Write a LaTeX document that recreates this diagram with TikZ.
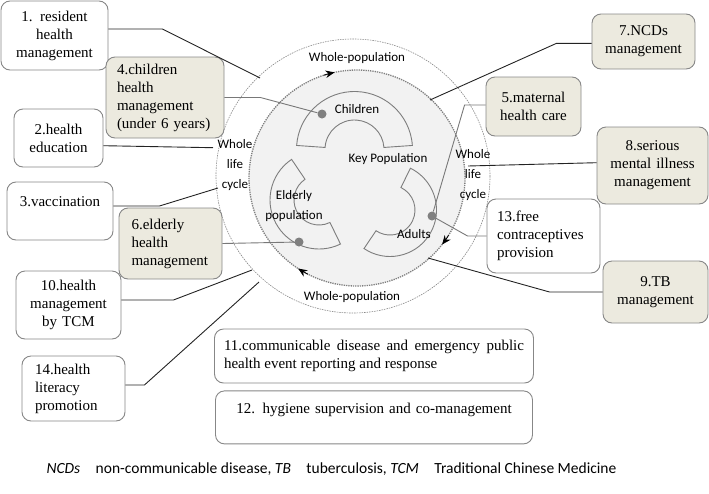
\documentclass[tikz,border=0pt]{standalone}
\usepackage{fontspec}
\setmainfont{Liberation Serif}
\newfontfamily\calibrifont{Carlito}
\usetikzlibrary{positioning}
\usetikzlibrary{arrows.meta}
\definecolor{beige}{RGB}{236,234,223}
\definecolor{boxgray}{RGB}{135,135,135}
\definecolor{ringfill}{RGB}{242,242,242}
\definecolor{piecegray}{RGB}{125,125,125}
\definecolor{dotgray}{RGB}{128,128,128}
\definecolor{leadgray}{RGB}{120,120,120}
\definecolor{leaddark}{RGB}{35,35,35}
\tikzset{
  svc/.style={draw=boxgray, line width=0.9pt, rounded corners=9pt, fill=white, inner sep=0pt, font=\fontsize{15}{18}\selectfont},
  keysvc/.style={svc, fill=beige},
  ringlabel/.style={font=\calibrifont\fontsize{13}{20}\selectfont, align=center},
  lead/.style={leaddark, line width=0.9pt},
  softlead/.style={leadgray, line width=0.9pt},
  piece/.style={piecegray, line width=0.9pt},
  spot/.style={circle, fill=dotgray, inner sep=0pt, minimum size=9pt},
  turn/.style={-{Stealth[length=9pt,width=7.5pt]}, black, line width=0.8pt},
}

\begin{document}
\begin{tikzpicture}[x=1pt, y=-1pt]
        \useasboundingbox (0,0) rectangle (709,493);
        % rings %
        \draw[boxgray, line width=0.6pt, dash pattern=on 1.5pt off 1pt] (353,176) circle[radius=137];
        \draw[fill=ringfill, draw=gray, line width=1.3pt, densely dotted] (357,178) circle[radius=108];
        \draw[turn, shift={(357,178)}] (-108:108) arc[start angle=-108, end angle=-102, radius=108];
        \draw[turn, shift={(357,178)}] (32:108) arc[start angle=32, end angle=38, radius=108];
        \draw[turn, shift={(357,178)}] (117:108) arc[start angle=117, end angle=123, radius=108];
        % key population pieces %
        \draw[piece, shift={(354.5,149.5)}] (-4:58) arc[start angle=-4, end angle=-176, radius=58] -- (-176:29.5) arc[start angle=-176, end angle=-4, radius=29.5] -- cycle;
        \draw[piece, shift={(319,200)}] (-124:49) arc[start angle=-124, end angle=-296, radius=49] -- (-296:25) arc[start angle=-296, end angle=-124, radius=25] -- cycle;
        \draw[piece, shift={(390,210)}] (124:46.5) arc[start angle=124, end angle=-64, radius=46.5] -- (-64:25) arc[start angle=-64, end angle=124, radius=25] -- cycle;
        % nodes %
        \node[spot] (kid) at (322,114) {};
        \node[spot] (old) at (299,242) {};
        \node[spot] (adult) at (432,216) {};
        \node[ringlabel] (children) at (357,109) {Children};
        \node[ringlabel] (keypop) at (388,159) {Key Population};
        \node[ringlabel] (elderly) at (294,206) {Elderly\\population};
        \node[ringlabel] (adults) at (414,234) {Adults};
        \node[ringlabel] (wholetop) at (357,58) {Whole-population};
        \node[ringlabel] (wholebot) at (352,297) {Whole-population};
        \node[ringlabel] (lifeleft) at (235,165) {Whole\\life\\cycle};
        \node[ringlabel] (liferight) at (473,175) {Whole\\life\\cycle};

        \node[svc, minimum width=107pt, minimum height=69pt, text width=81pt, align=center] (b1) at (54.5,35.5) {1. resident\\health\\management};
        \node[keysvc, minimum width=118pt, minimum height=81pt, text width=96pt, align=left] (b4) at (165,97.5) {4.children\\health\\management\\(under 6 years)};
        \node[svc, minimum width=89pt, minimum height=58pt, text width=80pt, align=center] (b2) at (58.5,138) {2.health\\education};
        \node[svc, minimum width=106pt, minimum height=58pt, text width=90pt, align=center] (b3) at (60,211) {3.vaccination\\~};
        \node[keysvc, minimum width=103pt, minimum height=71pt, text width=78pt, align=left] (b6) at (170.5,243.5) {6.elderly\\health\\management};
        \node[svc, minimum width=105pt, minimum height=68pt, text width=90pt, align=center] (b10) at (68.5,305) {10.health\\management\\by TCM};
        \node[svc, minimum width=103pt, minimum height=65pt, text width=77pt, align=left] (b14) at (73.5,388.5) {14.health\\literacy\\promotion};
        \node[svc, minimum width=319pt, minimum height=54pt, text width=300pt, align=justify] (b11) at (374,356) {11.communicable disease and emergency public\linebreak health event reporting and response};
        \node[svc, minimum width=317pt, minimum height=53pt, text width=300pt, align=center, below=7pt of b11] (b12) {12. hygiene supervision and co-management\\~};
        \node[keysvc, minimum width=103pt, minimum height=55pt, text width=90pt, align=center] (b7) at (643.5,41.5) {7.NCDs\\management};
        \node[keysvc, minimum width=95pt, minimum height=59pt, text width=85pt, align=center] (b5) at (533.5,106.5) {5.maternal\\health care};
        \node[keysvc, minimum width=111pt, minimum height=77pt, text width=100pt, align=center] (b8) at (652.5,165.5) {8.serious\\mental illness\\management};
        \node[svc, minimum width=113pt, minimum height=74pt, text width=93pt, align=left] (b13) at (543.5,236) {13.free\\contraceptives\\provision};
        \node[keysvc, minimum width=105pt, minimum height=62pt, text width=90pt, align=center] (b9) at (655.5,292) {9.TB\\management};

        \node[font=\calibrifont\fontsize{15.5}{18}\selectfont] (notes) at (331.5,469) {\textit{NCDs}\quad non-communicable disease, \textit{TB}\quad tuberculosis, \textit{TCM}\quad Traditional Chinese Medicine};

        \coordinate (e1) at (260,78);
        \coordinate (e2) at (213,147.7);
        \coordinate (e3) at (218,188);
        \coordinate (e10) at (252,270);
        \coordinate (e14) at (259,282);
        \coordinate (e7) at (430,100);
        \coordinate (e8) at (468,166);
        \coordinate (e9) at (428,258);
        % edges %
        \draw[lead] ([yshift=6.5pt]b1.east) -- ++(54,0) -- (e1);
        \draw[softlead] (b4.east) -- ++(36,0) -- (kid);
        \draw[lead] ([yshift=-7.7pt]b2.east) -- (e2);
        \draw[lead] ([yshift=5pt]b3.east) -- ++(46,0) -- (e3);
        \draw[softlead] (b6.east) -- (old);
        \draw[lead] ([yshift=5pt]b10.east) -- ++(52,0) -- (e10);
        \draw[lead] ([yshift=3.5pt]b14.east) -- ++(19,0) -- (e14);
        \draw[lead] ([yshift=-1.8pt]b7.west) -- ++(-35,0) -- (e7);
        \draw[softlead] ([yshift=1.5pt]b5.west) -- ++(-21,0) -- (adult);
        \draw[lead] ([yshift=2.8pt]b8.west) -- (e8);
        \draw[softlead] (b13.west) -- ++(-19,0) -- (adult);
        \draw[lead] (b9.west) -- ++(-53,0) -- (e9);
\end{tikzpicture}
\end{document}
